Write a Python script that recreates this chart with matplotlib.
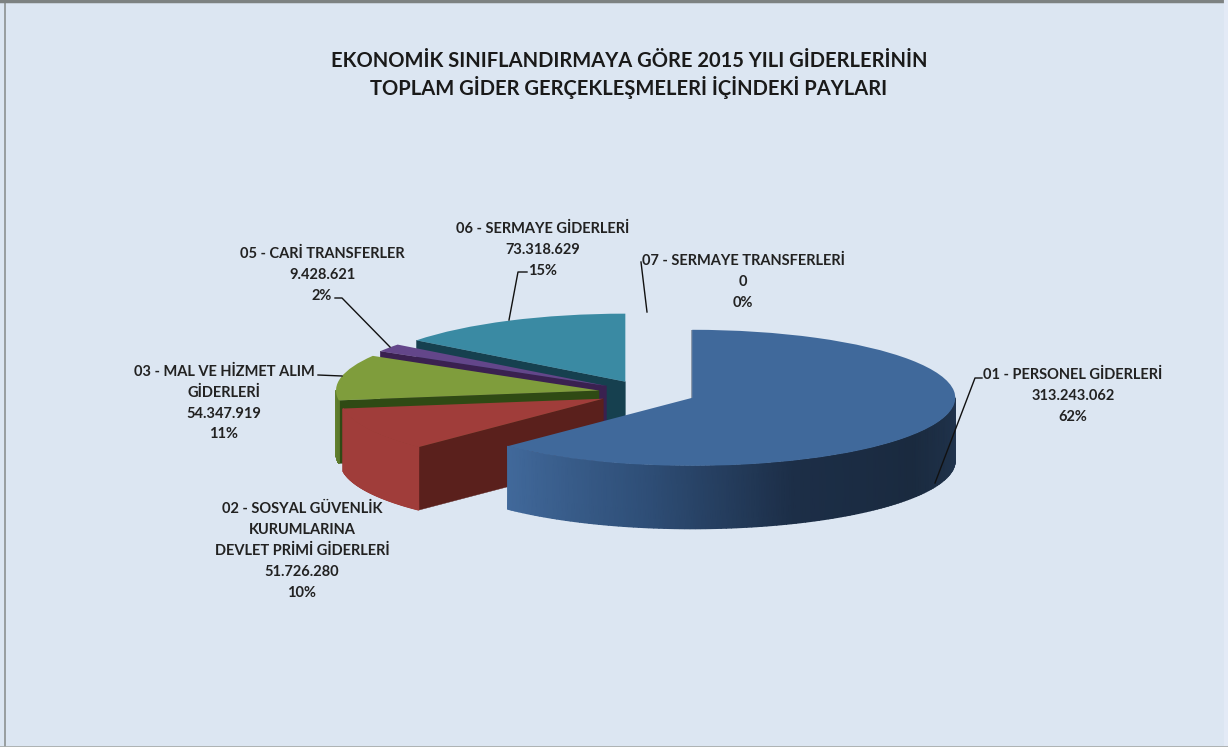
import numpy as np
import matplotlib
matplotlib.use('Agg')
import matplotlib.pyplot as plt
from matplotlib.colors import LinearSegmentedColormap

plt.rcParams['font.family'] = ['Lato', 'DejaVu Sans']

# data
categories = ['01 - PERSONEL GİDERLERİ',
              '02 - SOSYAL GÜVENLİK\nKURUMLARINA\nDEVLET PRİMİ GİDERLERİ',
              '03 - MAL VE HİZMET ALIM\nGİDERLERİ',
              '05 - CARİ TRANSFERLER',
              '06 - SERMAYE GİDERLERİ',
              '07 - SERMAYE TRANSFERLERİ']
values = [313243062, 51726280, 54347919, 9428621, 73318629, 0]
title = 'EKONOMİK SINIFLANDIRMAYA GÖRE 2015 YILI GİDERLERİNİN\nTOPLAM GİDER GERÇEKLEŞMELERİ İÇİNDEKİ PAYLARI'

# colours
top_colors = ['#40699b', '#a03d3a', '#7f9d3c', '#63468a', '#3a8aa3', '#3a8aa3']
radial_colors = ['#1c2e47', '#5a201c', '#2f4a14', '#3a2150', '#16404f', '#16404f']
wall_colors = [['#41699b', '#2f4f78', '#1c2e47', '#1a2a3f', '#21354f'],
               ['#a03d3a', '#a03d3a'], ['#66842f', '#5c7a2c'],
               ['#3a2150', '#3a2150'], ['#16404f', '#16404f'], ['#16404f', '#16404f']]

# pixel layout of the picture
W, H = 1228, 747
cx, cy = 647, 393
rx, ry = 263, 68
depth = 63 / ry
explode_k = 0.186

label_xy = [(1073, 396), (302, 551), (224, 403), (322, 275), (543, 250), (743, 282)]
leaders = [[(982, 378), (975, 378), (935, 483)],
           [],
           [(318, 375), (342, 376)],
           [(335, 298), (342, 298), (390, 347)],
           [(527, 272), (518, 272), (509, 320)],
           [(641, 262), (647, 312)]]

fig = plt.figure(figsize=(W / 100, H / 100), dpi=100, facecolor='#dce6f2')

# pie in units of the ellipse, so the axes squash it
ax = fig.add_axes([0, 0, 1, 1])
wedges, _ = ax.pie(values, explode=[explode_k] * len(values), startangle=90,
                   counterclock=False, colors=top_colors,
                   wedgeprops={'linewidth': 0})
ax.set_aspect('auto')
ax.set_xlim(-cx / rx, (W - cx) / rx)
ax.set_ylim(-(H - cy) / ry, cy / ry)
ax.axis('off')

# paint back to front: teal, purple, green, red, blue
for i, w in enumerate(wedges):
    if values[i] == 0:
        continue
    z = 2 * (len(wedges) - i)
    w.set_zorder(z + 1)
    x0, y0 = w.center
    # cut face facing the viewer
    t = np.radians(w.theta2)
    xr, yr = x0 + np.cos(t), y0 + np.sin(t)
    ax.fill([x0, xr, xr, x0], [y0, yr, yr - depth, y0 - depth],
            color=radial_colors[i], lw=0.3, zorder=z)
    # outer wall, only the front half shows
    a1, a2 = max(w.theta1, -180), min(w.theta2, 0)
    if a2 <= a1:
        continue
    cmap = LinearSegmentedColormap.from_list('wall', wall_colors[i])
    aa = np.radians(np.linspace(a1, a2, 120))
    xs = x0 + np.cos(aa)
    ys = y0 + np.sin(aa)
    shade = np.linspace(0, 1, 120)
    ax.pcolormesh(np.vstack([xs, xs]), np.vstack([ys, ys - depth]),
                  np.vstack([shade, shade]), cmap=cmap, vmin=0, vmax=1,
                  shading='gouraud', zorder=z)

# overlay in picture pixels for text and frame
ov = fig.add_axes([0, 0, 1, 1], facecolor='none')
ov.set_xlim(0, W)
ov.set_ylim(H, 0)
ov.axis('off')

ov.plot([4.5, 4.5], [0, H], color='#8c9191', lw=1.2)
ov.plot([0, W], [1, 1], color='#7d8282', lw=2.5)
ov.plot([W - 2, W - 2], [0, H], color='#e3eaf6', lw=3)
ov.plot([0, W], [H - 0.5, H - 0.5], color='#a9adad', lw=2)

ov.text(629, 75, title, ha='center', va='center', fontsize=14.5,
        fontweight='bold', color='#1a1a1a', linespacing=1.3)

total = sum(values)
for name, val, (lx, ly), leader in zip(categories, values, label_xy, leaders):
    txt = '{}\n{}\n{:.0f}%'.format(name, format(val, ',').replace(',', '.'), 100 * val / total)
    ov.text(lx, ly, txt, ha='center', va='center', fontsize=10.5,
            fontweight='bold', color='#222222', linespacing=1.62)
    if leader:
        ov.plot([p[0] for p in leader], [p[1] for p in leader], color='#111111', lw=1)

fig.savefig('out.png', dpi=100, facecolor=fig.get_facecolor())
